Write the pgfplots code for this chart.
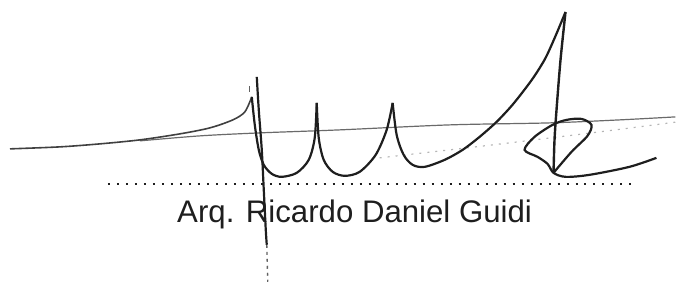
\documentclass[border=0pt]{standalone}
\usepackage{pgfplots}
\pgfplotsset{compat=1.18}
\usepackage{fontspec}
\setmainfont{Liberation Sans}
\definecolor{ink}{HTML}{1E1E1E}
\definecolor{pale}{HTML}{6A6A6A}
\begin{document}
\begin{tikzpicture}
\begin{axis}[
  width=339pt, height=141pt, scale only axis,
  hide axis, clip=false,
  xmin=0, xmax=678, ymin=0, ymax=282, y dir=reverse,
]
\path (axis cs:0,0) rectangle (axis cs:678,282);
% faint horizontal pen line
\addplot[pale, line width=0.6pt, smooth] coordinates {(140,141) (200,136) (260,133) (340,130) (450,125) (550,123) (620,120) (676,117)};
% faint dotted guide
\addplot[pale!50, line width=0.6pt, dash pattern=on 1pt off 3pt, smooth] coordinates {(380,158) (450,150) (510,143) (600,132) (678,122)};
% left rising stroke
\addplot[ink!85, line width=0.8pt, smooth] coordinates {(10,149) (60,147) (100,144) (140,140) (180,134) (210,128) (233,120) (245,112) (252,97)};
% first U
\addplot[ink, line width=1.1pt, smooth] coordinates {(252,97) (255,125) (259,150) (264,165) (272,174) (282,177) (297,173) (309,160) (315,138) (317,103)};
% second U
\addplot[ink, line width=1.1pt, smooth] coordinates {(317,103) (319,138) (324,160) (333,172) (345,176) (360,172) (376,155) (387,130) (393,103)};
% third U and long rise
\addplot[ink, line width=1.1pt, smooth] coordinates {(393,103) (397,135) (404,155) (413,165) (425,167) (445,160) (463,150) (480,137) (497,122) (512,106) (524,91) (535,76) (546,58) (556,36) (566,12)};
% down stroke
\addplot[ink, line width=1.2pt, smooth] coordinates {(566,12) (561,60) (557,110) (555,140) (554,173)};
% loop and tail
\addplot[ink, line width=1.1pt, smooth] coordinates {(554,173) (572,152) (588,136) (592,125) (582,119) (567,120) (553,125) (535,137) (525,150) (538,157) (548,164) (554,173) (566,177) (590,175) (630,167) (657,158)};
% long descender
\addplot[ink, line width=1.1pt, smooth] coordinates {(257,77) (259,110) (262,150) (264,190) (266,230) (267,245)};
\addplot[ink!70, line width=0.7pt, dash pattern=on 1.5pt off 2pt] coordinates {(267,245) (268,282)};
\addplot[ink!70, line width=0.5pt] coordinates {(250,86) (250,92)};
% dotted signature line
\addplot[ink, line width=1pt, dash pattern=on 1pt off 3.5pt] coordinates {(108,184) (632,184)};
% name
\node[anchor=base west, inner sep=0pt, text=ink, font=\fontsize{15.6}{18}\selectfont] at (axis cs:177,223) {Arq. Ricardo Daniel Guidi};
\end{axis}
\end{tikzpicture}
\end{document}
